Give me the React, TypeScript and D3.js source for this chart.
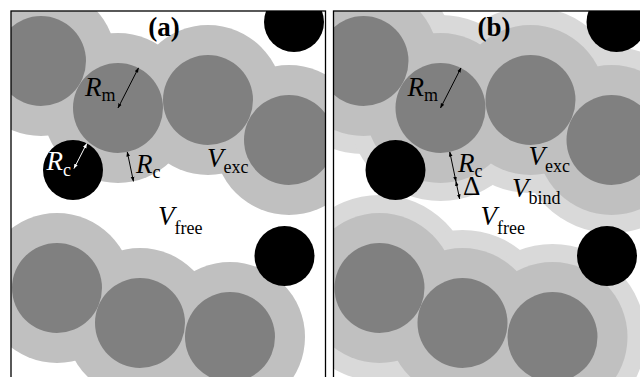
import React from "react";
import * as d3 from "d3";

// Geometry (panel-local units, origin = panel top-left corner)
const R_M = 45; // molecule radius
const R_C = 30; // crowder radius
const DELTA = 18; // binding shell width

const moleculeCenters: [number, number][] = [
  [30, 50],
  [107, 97],
  [197, 89],
  [278, 129],
  [46, 277],
  [129, 312],
  [219, 326],
];
const crowderCenters: [number, number][] = [
  [283, 11],
  [62, 159],
  [273.5, 245],
];

const panelNames = ["(a)", "(b)"];
const panelLefts = [11, 333.5];
const panelTop = 11;
const panelWidth = 314.5;
const panelHeight = 400;
const titleX = [153, 160.5];
const titleY = 25;

type Label = { main: string; sub: string; x: number; y: number; subDy: number; color: string; italic: boolean };
const labelsA: Label[] = [
  { main: "R", sub: "m", x: 74, y: 85, subDy: 5, color: "#000", italic: true },
  { main: "R", sub: "c", x: 35.5, y: 159, subDy: 6, color: "#fff", italic: true },
  { main: "R", sub: "c", x: 125, y: 162, subDy: 5, color: "#000", italic: true },
  { main: "V", sub: "exc", x: 196, y: 156, subDy: 6, color: "#000", italic: true },
  { main: "V", sub: "free", x: 147, y: 214, subDy: 9, color: "#000", italic: true },
];
const labelsB: Label[] = [
  { main: "R", sub: "m", x: 74, y: 85, subDy: 5, color: "#000", italic: true },
  { main: "R", sub: "c", x: 124.5, y: 160.5, subDy: 5, color: "#000", italic: true },
  { main: "Δ", sub: "", x: 129.5, y: 184, subDy: 0, color: "#000", italic: false },
  { main: "V", sub: "exc", x: 195, y: 154, subDy: 7, color: "#000", italic: true },
  { main: "V", sub: "bind", x: 178.5, y: 186, subDy: 7, color: "#000", italic: true },
  { main: "V", sub: "free", x: 147, y: 214, subDy: 9, color: "#000", italic: true },
];

// arrow directions (unit vectors)
const rmDir: [number, number] = [0.455, -0.89];
const rcDir: [number, number] = [0.206, 0.978];

const COL_DARK = "#808080";
const COL_HALO = "#c0c0c0";
const COL_BIND = "#d9d9d9";
const FONT = "'Liberation Serif', 'Times New Roman', Times, 'DejaVu Serif', serif";

function Panel({ idx }: { idx: number }) {
  const left = panelLefts[idx];
  const x = d3.scaleLinear().domain([0, panelWidth]).range([left, left + panelWidth]);
  const y = d3.scaleLinear().domain([0, panelHeight]).range([panelTop, panelTop + panelHeight]);
  const k = x(1) - x(0);
  const clipId = `clip-${idx}`;
  const isB = idx === 1;
  const labels = isB ? labelsB : labelsA;
  const mol = moleculeCenters[1];

  const arrows: [number, number, number, number, string][] = [];
  arrows.push([x(mol[0]), y(mol[1]), x(mol[0] + rmDir[0] * R_M), y(mol[1] + rmDir[1] * R_M), "#000"]);
  arrows.push([
    x(mol[0] + rcDir[0] * R_M), y(mol[1] + rcDir[1] * R_M),
    x(mol[0] + rcDir[0] * (R_M + R_C)), y(mol[1] + rcDir[1] * (R_M + R_C)), "#000",
  ]);
  if (isB) {
    arrows.push([
      x(mol[0] + rcDir[0] * (R_M + R_C)), y(mol[1] + rcDir[1] * (R_M + R_C)),
      x(mol[0] + rcDir[0] * (R_M + R_C + DELTA)), y(mol[1] + rcDir[1] * (R_M + R_C + DELTA)), "#000",
    ]);
  } else {
    const c = crowderCenters[1];
    arrows.push([x(c[0] + 1), y(c[1] - 1.5), x(c[0] + 1 + rmDir[0] * (R_C - 2)), y(c[1] - 1.5 + rmDir[1] * (R_C - 2)), "#fff"]);
  }

  return (
    <g>
      <defs>
        <clipPath id={clipId}>
          <rect x={x(0)} y={y(0)} width={panelWidth * k} height={panelHeight * k} />
        </clipPath>
      </defs>
      <rect x={x(0)} y={y(0)} width={panelWidth * k} height={panelHeight * k} fill="#fff" />
      <g clipPath={`url(#${clipId})`}>
        {isB &&
          moleculeCenters.map((c, i) => (
            <circle key={`b${i}`} cx={x(c[0])} cy={y(c[1])} r={(R_M + R_C + DELTA) * k} fill={COL_BIND} />
          ))}
        {moleculeCenters.map((c, i) => (
          <circle key={`h${i}`} cx={x(c[0])} cy={y(c[1])} r={(R_M + R_C) * k} fill={COL_HALO} />
        ))}
        {moleculeCenters.map((c, i) => (
          <circle key={`m${i}`} cx={x(c[0])} cy={y(c[1])} r={R_M * k} fill={COL_DARK} />
        ))}
        {crowderCenters.map((c, i) => (
          <circle key={`c${i}`} cx={x(c[0])} cy={y(c[1])} r={R_C * k} fill="#000" />
        ))}
      </g>
      {arrows.map((a, i) => (
        <line
          key={`a${i}`}
          x1={a[0]} y1={a[1]} x2={a[2]} y2={a[3]}
          stroke={a[4]} strokeWidth={1}
          markerStart={`url(#head-${a[4] === "#fff" ? "w" : "k"})`}
          markerEnd={`url(#head-${a[4] === "#fff" ? "w" : "k"})`}
        />
      ))}
      <text x={x(titleX[idx])} y={y(titleY)} textAnchor="middle"
        style={{ fontFamily: FONT, fontWeight: "bold", fontSize: "27px" }}>
        {panelNames[idx]}
      </text>
      {labels.map((l, i) => (
        <text key={`l${i}`} x={x(l.x)} y={y(l.y)} fill={l.color}
          style={{ fontFamily: FONT, fontSize: "27px", fontStyle: l.italic ? "italic" : "normal" }}>
          {l.main}
          {l.sub && (
            <tspan dy={l.subDy} style={{ fontStyle: "normal", fontSize: "18px" }}>{l.sub}</tspan>
          )}
        </text>
      ))}
      <rect x={x(0)} y={y(0)} width={panelWidth * k} height={panelHeight * k} fill="none" stroke="#000" strokeWidth={1.3} />
    </g>
  );
}

export default function App() {
  return (
    <svg width={640} height={377} style={{ position: "absolute", left: 0, top: 0 }}>
      <defs>
        <marker id="head-k" viewBox="0 0 6 6" refX={5.5} refY={3} markerWidth={5} markerHeight={5}
          markerUnits="userSpaceOnUse" orient="auto-start-reverse">
          <path d="M0,0.8 L6,3 L0,5.2 Z" fill="#000" />
        </marker>
        <marker id="head-w" viewBox="0 0 6 6" refX={5.5} refY={3} markerWidth={5} markerHeight={5}
          markerUnits="userSpaceOnUse" orient="auto-start-reverse">
          <path d="M0,0.8 L6,3 L0,5.2 Z" fill="#fff" />
        </marker>
      </defs>
      <rect x={0} y={0} width={640} height={377} fill="#fff" />
      {panelNames.map((_, i) => (
        <Panel key={i} idx={i} />
      ))}
    </svg>
  );
}
